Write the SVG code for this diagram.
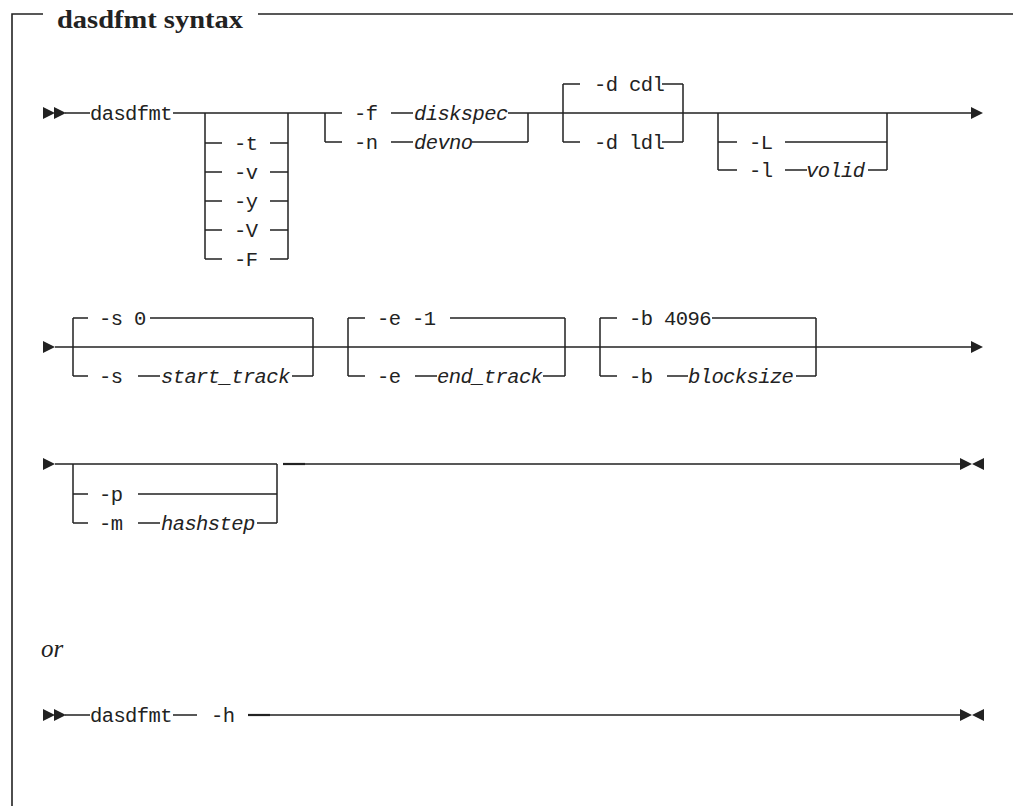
<svg xmlns="http://www.w3.org/2000/svg" xmlns:xlink="http://www.w3.org/1999/xlink" width="1013" height="806" viewBox="0 0 1013 806">
<style>
.ln{stroke:#222;stroke-width:1.5;fill:none}
.fr{stroke:#222;stroke-width:1.6;fill:none}
.m{font-family:"Liberation Mono","DejaVu Sans Mono",monospace;font-size:20.5px;letter-spacing:-0.6px;fill:#222}
.i{font-style:italic}
.ttl{font-family:"Liberation Serif","DejaVu Serif",serif;font-weight:bold;font-size:26px;fill:#222}
.or{font-family:"Liberation Serif","DejaVu Serif",serif;font-style:italic;font-size:25px;fill:#222}
.ah{fill:#222}
</style>
<defs>
<path id="tr" d="M0,-6 L12,0 L0,6 Z"/>
<path id="tl" d="M12,-6 L0,0 L12,6 Z"/>
</defs>
<rect width="1013" height="806" fill="#fff"/>
<g id="frame">
<path class="fr" d="M12,806 V14 H43 M258,14 H1013"/>
<text class="ttl" x="57" y="28" textLength="186" lengthAdjust="spacingAndGlyphs">dasdfmt syntax</text>
</g>
<g id="connectors">
<!-- row 1 -->
<path class="ln" d="M65,113 H90 M173,113 H342 M391,113 H413 M508,113 H972"/>
<path class="ln" d="M205,113 V259 M288,113 V259 M205,143 H222 M270,143 H288 M205,172 H222 M270,172 H288 M205,201 H222 M270,201 H288 M205,230 H222 M270,230 H288 M205,259 H222 M270,259 H288"/>
<path class="ln" d="M325,113 V142 M528,113 V142 M325,142 H342 M391,142 H413 M472,142 H528"/>
<path class="ln" d="M563,84 V142 M683,84 V142 M563,84 H580 M662,84 H683 M563,142 H580 M662,142 H683"/>
<path class="ln" d="M718,113 V170 M887,113 V170 M718,142 H737 M785,142 H887 M718,170 H737 M785,170 H807 M868,170 H887"/>
<!-- row 2 -->
<path class="ln" d="M55,347 H972"/>
<path class="ln" d="M73,318 V376 M313,318 V376 M73,318 H88 M150,318 H313 M73,376 H88 M138,376 H160 M292,376 H313"/>
<path class="ln" d="M348,318 V376 M565,318 V376 M348,318 H365 M450,318 H565 M348,376 H365 M415,376 H437 M543,376 H565"/>
<path class="ln" d="M600,318 V376 M816,318 V376 M600,318 H617 M712,318 H816 M600,376 H617 M667,376 H688 M796,376 H816"/>
<!-- row 3 -->
<path class="ln" d="M55,464 H277 M305,464 H960"/>
<path class="ln" d="M283,464 H305" style="stroke-width:2.2"/>
<path class="ln" d="M73,464 V523 M277,464 V523 M73,494 H88 M138,494 H277 M73,523 H88 M138,523 H160 M257,523 H277"/>
<!-- row 4 -->
<path class="ln" d="M65,715 H90 M173,715 H197 M248,715 H960"/>
<path class="ln" d="M248,715 H270" style="stroke-width:2.2"/>
<!-- arrowheads -->
<use class="ah" xlink:href="#tr" x="43" y="113"/>
<use class="ah" xlink:href="#tr" x="54" y="113"/>
<use class="ah" xlink:href="#tr" x="971" y="113"/>
<use class="ah" xlink:href="#tr" x="43" y="347"/>
<use class="ah" xlink:href="#tr" x="971" y="347"/>
<use class="ah" xlink:href="#tr" x="43" y="464"/>
<use class="ah" xlink:href="#tr" x="960" y="464"/>
<use class="ah" xlink:href="#tl" x="972" y="464"/>
<use class="ah" xlink:href="#tr" x="43" y="715"/>
<use class="ah" xlink:href="#tr" x="54" y="715"/>
<use class="ah" xlink:href="#tr" x="960" y="715"/>
<use class="ah" xlink:href="#tl" x="972" y="715"/>
</g>
<g id="cmd1"><text class="m" x="90" y="120">dasdfmt</text></g>
<g id="opt-t"><text class="m" x="234" y="150">-t</text></g>
<g id="opt-v"><text class="m" x="234" y="179">-v</text></g>
<g id="opt-y"><text class="m" x="234" y="208">-y</text></g>
<g id="opt-V"><text class="m" x="234" y="237">-V</text></g>
<g id="opt-F"><text class="m" x="234" y="266">-F</text></g>
<g id="opt-f"><text class="m" x="354" y="120">-f</text><text class="m i" x="414" y="120">diskspec</text></g>
<g id="opt-n"><text class="m" x="354" y="149">-n</text><text class="m i" x="414" y="149">devno</text></g>
<g id="opt-dcdl"><text class="m" x="594" y="91">-d cdl</text></g>
<g id="opt-dldl"><text class="m" x="594" y="149">-d ldl</text></g>
<g id="opt-L"><text class="m" x="749" y="149">-L</text></g>
<g id="opt-l"><text class="m" x="749" y="177">-l</text><text class="m i" x="806" y="177">volid</text></g>
<g id="opt-s0"><text class="m" x="99" y="325">-s 0</text></g>
<g id="opt-s"><text class="m" x="99" y="383">-s</text><text class="m i" x="161" y="383">start_track</text></g>
<g id="opt-e1"><text class="m" x="377" y="325">-e -1</text></g>
<g id="opt-e"><text class="m" x="377" y="383">-e</text><text class="m i" x="437" y="383">end_track</text></g>
<g id="opt-b4096"><text class="m" x="629" y="325">-b 4096</text></g>
<g id="opt-b"><text class="m" x="629" y="383">-b</text><text class="m i" x="688" y="383">blocksize</text></g>
<g id="opt-p"><text class="m" x="99" y="501">-p</text></g>
<g id="opt-m"><text class="m" x="99" y="530">-m</text><text class="m i" x="161" y="530">hashstep</text></g>
<g id="or"><text class="or" x="41" y="657">or</text></g>
<g id="cmd2"><text class="m" x="90" y="722">dasdfmt</text><text class="m" x="211" y="722">-h</text></g>
</svg>
